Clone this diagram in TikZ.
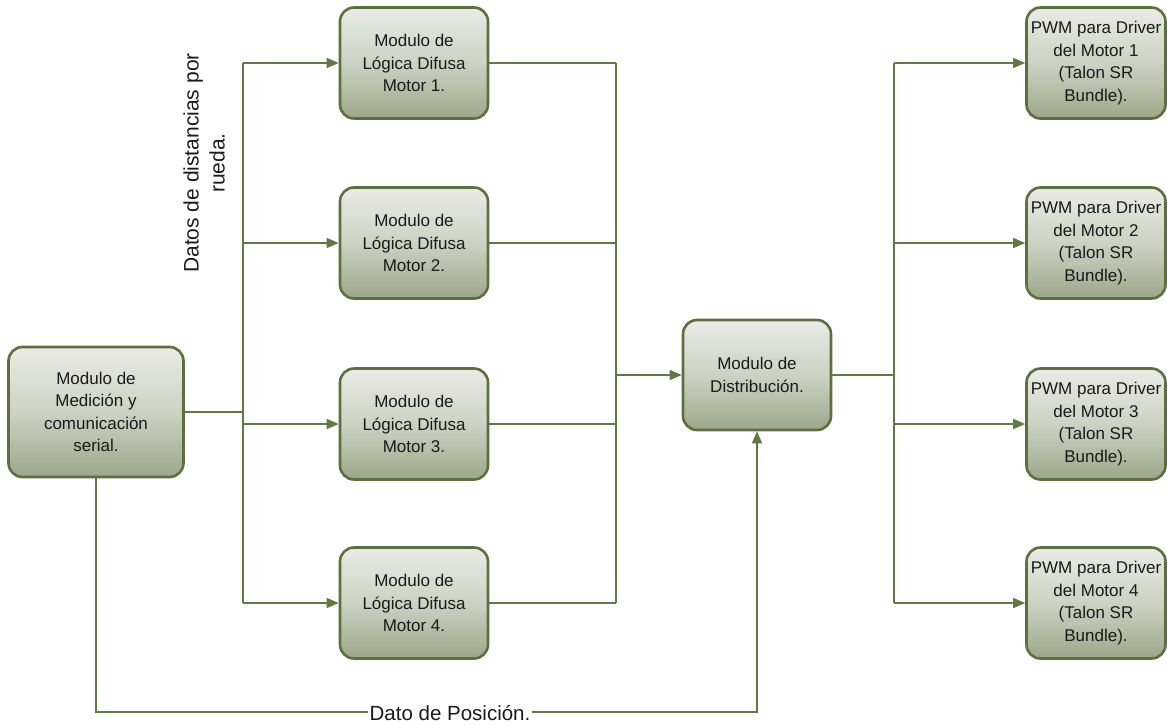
\documentclass[tikz,border=0pt]{standalone}
\usepackage{fontspec}
\setmainfont{Liberation Sans}
\usetikzlibrary{arrows.meta}
\definecolor{lineg}{HTML}{5F7A43}
\definecolor{edgeg}{HTML}{5B703D}
\definecolor{boxtop}{HTML}{EAEBE6}
\definecolor{boxmid}{HTML}{CDD2C3}
\definecolor{boxbot}{HTML}{9DA78A}
\definecolor{ink}{HTML}{1A1A1A}

\begin{document}
\begin{tikzpicture}[x=1pt,y=-1pt,
  blk/.style={draw=edgeg, line width=2.6pt, rounded corners=14pt,
    top color=boxtop, bottom color=boxbot, middle color=boxmid,
    align=center, text=ink, inner sep=0pt,
    font=\fontsize{17}{22.5}\selectfont},
  logic/.style={blk, minimum width=148pt, minimum height=111pt},
  pwm/.style={blk, minimum width=139pt, minimum height=111pt},
  wire/.style={draw=lineg, line width=1.4pt},
  arr/.style={wire, -{Triangle[length=12pt,width=10pt]}}]

\useasboundingbox (0,0) rectangle (1167,723);

% blocks
\node[blk, minimum width=175pt, minimum height=130pt] (med) at (96,412)
  {Modulo de\\Medición y\\comunicación\\serial.};
\node[logic] (l1) at (414,63)  {Modulo de\\Lógica Difusa\\Motor 1.};
\node[logic] (l2) at (414,243) {Modulo de\\Lógica Difusa\\Motor 2.};
\node[logic] (l3) at (414,424) {Modulo de\\Lógica Difusa\\Motor 3.};
\node[logic] (l4) at (414,603) {Modulo de\\Lógica Difusa\\Motor 4.};
\node[blk, minimum width=148pt, minimum height=110pt] (dist) at (757,375)
  {Modulo de\\Distribución.};
\node[pwm] (p1) at (1096,63)  {PWM para Driver\\del Motor 1\\(Talon SR\\Bundle).};
\node[pwm] (p2) at (1096,243) {PWM para Driver\\del Motor 2\\(Talon SR\\Bundle).};
\node[pwm] (p3) at (1096,424) {PWM para Driver\\del Motor 3\\(Talon SR\\Bundle).};
\node[pwm] (p4) at (1096,603) {PWM para Driver\\del Motor 4\\(Talon SR\\Bundle).};

% bus lines
\coordinate (busL) at (243,0);
\coordinate (busM) at (616,0);
\coordinate (busR) at (894,0);
\coordinate (low) at (0,712);

\draw[wire] (med.east) -- (busL |- med.east);
\draw[wire] (busL |- l1.west) -- (busL |- l4.west);
\foreach \i in {1,...,4} {
  \draw[arr] (busL |- l\i.west) -- (l\i.west);
  \draw[wire] (l\i.east) -- (busM |- l\i.east);
  \draw[arr] (busR |- p\i.west) -- (p\i.west);
}
\draw[wire] (busM |- l1.east) -- (busM |- l4.east);
\draw[arr] (busM |- dist.west) -- (dist.west);
\draw[wire] (dist.east) -- (busR |- dist.east);
\draw[wire] (busR |- p1.west) -- (busR |- p4.west);

% position feedback
\node[anchor=base, text=ink, inner sep=1pt, font=\fontsize{20.5}{22}\selectfont] (pos) at (450,720) {Dato de Posición.};
\draw[wire] (med.south) -- (med.south |- low) -- (pos.west |- low);
\draw[arr] (pos.east |- low) -- (dist.south |- low) -- (dist.south);

% bus label
\node[rotate=90, align=center, text=ink, font=\fontsize{21}{26}\selectfont] (lbl) at (204,163)
  {Datos de distancias por\\rueda.};
\end{tikzpicture}
\end{document}
